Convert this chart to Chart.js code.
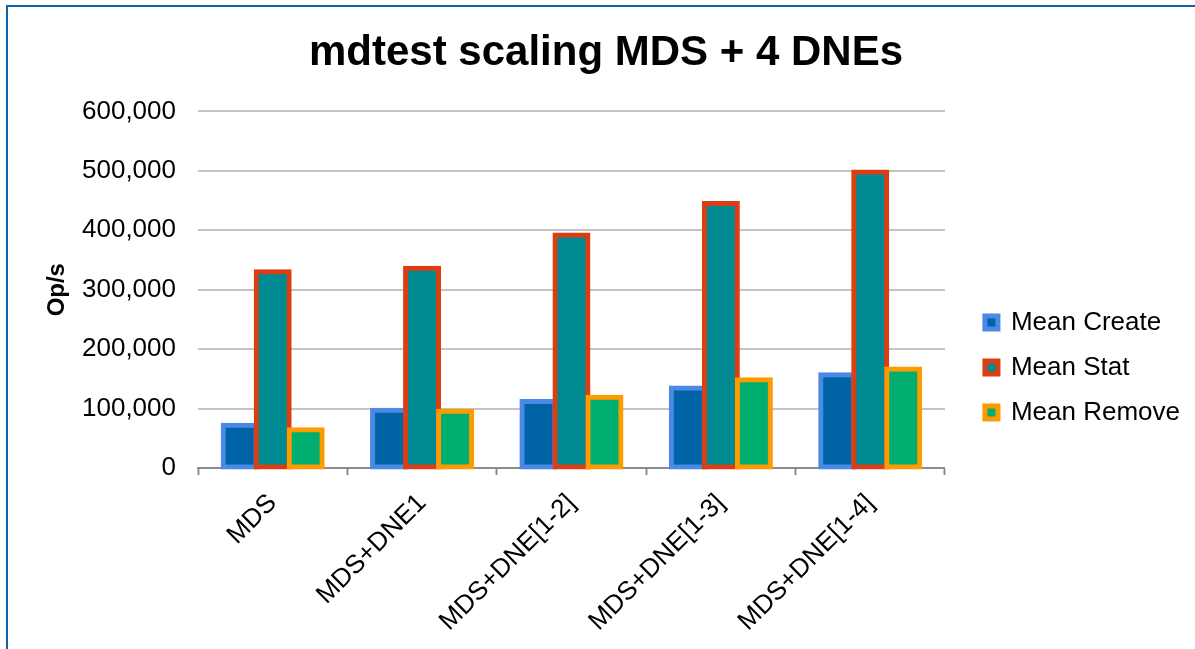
<!DOCTYPE html>
<html>
<head>
<meta charset="utf-8">
<script src="https://cdn.jsdelivr.net/npm/chart.js@4/dist/chart.umd.min.js"></script>
<style>
  html, body { margin: 0; padding: 0; background: #ffffff; overflow: hidden; }
  #wrap { position: relative; width: 1195px; height: 649px; }
  #frame { position: absolute; left: 6px; top: 5px; width: 2000px; height: 2000px;
           border: 2px solid #1161a6; pointer-events: none; box-sizing: border-box; }
  canvas { position: absolute; left: 0; top: 0; }
</style>
</head>
<body>
<div id="wrap">
  <canvas id="chart" width="1195" height="649"></canvas>
  <div id="frame"></div>
</div>
<script>
// Configurations tested
const categories = ['MDS', 'MDS+DNE1', 'MDS+DNE[1-2]', 'MDS+DNE[1-3]', 'MDS+DNE[1-4]'];

// Mean operations per second
const meanCreate = [72000, 97000, 112000, 134500, 157000];
const meanStat   = [330000, 336000, 392000, 445000, 498000];
const meanRemove = [64500, 95500, 119000, 148500, 166500];

const seriesNames = ['Mean Create', 'Mean Stat', 'Mean Remove'];
const yTicks = [0, 100000, 200000, 300000, 400000, 500000, 600000];

const FONT = "'Liberation Sans', Arial, sans-serif";

// Moves the legend block next to the plot, beside the middle of the value range
const legendPlacement = {
  id: 'legendPlacement',
  afterLayout(chart) {
    const lg = chart.legend;
    if (!lg) return;
    const dx = 21, dy = 43;
    lg.left += dx; lg.right += dx;
    lg.top += dy; lg.bottom += dy;
  }
};

// Draws the series first-to-last so each later series overlaps the earlier one's border
const drawInSeriesOrder = {
  id: 'drawInSeriesOrder',
  beforeDatasetsDraw(chart) {
    chart.data.datasets.forEach((ds, i) => {
      const meta = chart.getDatasetMeta(i);
      if (meta.visible) meta.controller.draw();
    });
    return false;
  }
};

const chart = new Chart(document.getElementById('chart'), {
  type: 'bar',
  data: {
    labels: categories,
    datasets: [
      { label: seriesNames[0], data: meanCreate, backgroundColor: '#0063a6', borderColor: '#4a89e8' },
      { label: seriesNames[1], data: meanStat,   backgroundColor: '#008b93', borderColor: '#dc3d12' },
      { label: seriesNames[2], data: meanRemove, backgroundColor: '#00ae6f', borderColor: '#ff9a00' }
    ]
  },
  plugins: [legendPlacement, drawInSeriesOrder],
  options: {
    responsive: false,
    animation: false,
    layout: { padding: { left: 43, right: 26, top: 0, bottom: 0 } },
    datasets: {
      bar: {
        borderWidth: 5,
        borderSkipped: false,
        inflateAmount: 2.5,
        categoryPercentage: 0.663,
        barPercentage: 1.0
      }
    },
    plugins: {
      title: {
        display: true,
        text: 'mdtest scaling MDS + 4 DNEs',
        color: '#000000',
        font: { family: FONT, size: 42, weight: 'bold', lineHeight: 1.2 },
        padding: { top: 28, bottom: 33 }
      },
      legend: {
        display: true,
        position: 'right',
        labels: {
          color: '#000000',
          font: { family: FONT, size: 26 },
          boxWidth: 13,
          boxHeight: 13,
          padding: 19
        }
      },
      tooltip: { enabled: false }
    },
    scales: {
      x: {
        offset: true,
        grid: {
          offset: true,
          drawOnChartArea: false,
          drawTicks: true,
          tickLength: 7,
          tickWidth: 2,
          tickColor: '#8c8c8c'
        },
        border: { display: true, color: '#8c8c8c', width: 2 },
        ticks: {
          color: '#000000',
          font: { family: FONT, size: 26 },
          minRotation: 45,
          maxRotation: 45,
          padding: 13
        },
        afterFit: (scale) => {
          scale.height = 181;
          scale.paddingLeft = 0;
          scale.paddingRight = 0;
        }
      },
      y: {
        min: 0,
        max: 600000,
        afterBuildTicks: (scale) => { scale.ticks = yTicks.map(v => ({ value: v })); },
        afterFit: (scale) => { scale.width = 155; },
        grid: { drawTicks: false, color: '#c4c4c4', lineWidth: 2 },
        border: { display: false },
        ticks: {
          color: '#000000',
          font: { family: FONT, size: 26 },
          padding: 22,
          callback: (v) => Number(v).toLocaleString('en-US')
        },
        title: {
          display: true,
          text: 'Op/s',
          color: '#000000',
          font: { family: FONT, size: 24, weight: 'bold', lineHeight: 1.2 },
          padding: { top: 0, bottom: 10 }
        }
      }
    }
  }
});
</script>
</body>
</html>
